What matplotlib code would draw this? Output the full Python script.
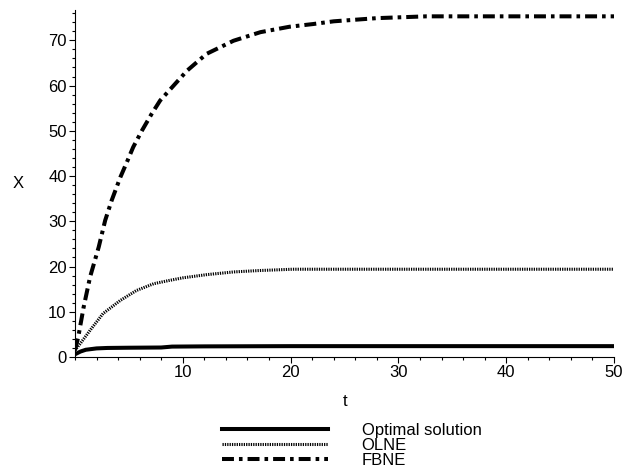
import matplotlib
matplotlib.use("Agg")
import matplotlib.pyplot as plt

plt.rcParams['font.family'] = ['Liberation Sans', 'DejaVu Sans']
plt.rcParams['lines.scale_dashes'] = False

# valeurs
t_opt = [0, 0.5, 1, 2, 3, 5, 8, 9, 12, 20, 30, 50]
x_opt = [0.6, 1.2, 1.6, 1.9, 2.0, 2.05, 2.1, 2.3, 2.35, 2.4, 2.4, 2.4]

t_olne = [0, 0.5, 1.4, 2.6, 4.2, 5.7, 7.3, 8.7, 10, 12.2, 14.7, 17, 20.2, 25, 30, 40, 50]
x_olne = [1.5, 3.0, 5.9, 9.6, 12.5, 14.7, 16.2, 16.9, 17.5, 18.2, 18.8, 19.1, 19.4, 19.4, 19.4, 19.4, 19.4]

t_fbne = [0, 0.3, 0.8, 1.4, 2.2, 2.8, 3.4, 4.2, 4.8, 5.4, 6.2, 7.1, 7.9, 10.4, 12.2,
          14.7, 17.2, 19.9, 22.1, 24, 28, 32.6, 40, 50]
x_fbne = [1.5, 4.4, 11.0, 17.7, 24.3, 30.2, 34.6, 39.7, 43.0, 46.4, 50.0, 53.7, 56.7, 63.3, 67.0,
          69.9, 71.8, 73.0, 73.6, 74.2, 74.9, 75.3, 75.3, 75.3]

labels = ['Optimal solution', 'OLNE', 'FBNE']

fig = plt.figure(figsize=(6.24, 4.76), dpi=100)
ax = fig.add_axes([75 / 624, 1 - 357 / 476, 539 / 624, 347 / 476])

l1, = ax.plot(t_opt, x_opt, color='black', lw=2.9, linestyle='-')
l2, = ax.plot(t_olne, x_olne, color='black', lw=2.2, linestyle=(0, (0.9, 0.8)))
l3, = ax.plot(t_fbne, x_fbne, color='black', lw=2.9, linestyle=(0, (8.6, 3.6, 2.6, 3.6)))

ax.set_xlim(0, 50)
ax.set_ylim(0, 76.7)
ax.set_xticks([10, 20, 30, 40, 50])
ax.set_yticks([0, 10, 20, 30, 40, 50, 60, 70])
ax.set_xticks(range(0, 51, 2), minor=True)
ax.set_yticks(range(0, 77, 2), minor=True)

for s in ['top', 'right']:
    ax.spines[s].set_visible(False)
for s in ['left', 'bottom']:
    ax.spines[s].set_linewidth(0.8)

ax.tick_params(which='major', direction='out', length=4.5, width=0.8, labelsize=12, pad=1.5)
ax.tick_params(which='minor', direction='out', length=2.5, width=0.8)

ax.set_xlabel('t', fontsize=12, va='top')
ax.xaxis.set_label_coords(0.501, -0.107)
ax.set_ylabel('X', fontsize=12, rotation=0, va='center', ha='center')
ax.yaxis.set_label_coords(-0.106, 0.5)

ax.legend([l1, l2, l3], labels, loc='upper left', bbox_to_anchor=(221.7 / 624, 1 - 422.8 / 476),
          bbox_transform=fig.transFigure, frameon=False, fontsize=12,
          handlelength=6.4, handletextpad=2.0, labelspacing=0.0,
          borderpad=0, borderaxespad=0)

fig.savefig('out.png', dpi=100)
